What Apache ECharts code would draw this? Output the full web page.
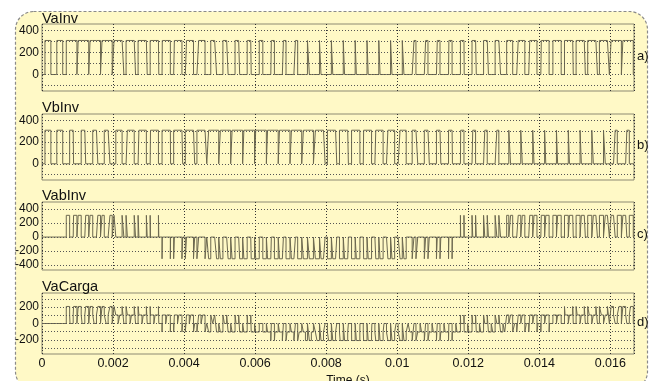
<!DOCTYPE html>
<html><head><meta charset="utf-8">
<script src="https://cdn.jsdelivr.net/npm/echarts@6/dist/echarts.min.js"></script>
<style>html,body{margin:0;padding:0;background:#fff}#c{width:654px;height:381px}</style>
</head><body><div id="c"></div>
<script>
// ================= DATA =================
// time axis (seconds)
const xMaxS = 1/60;
const xTickStep = 0.002;
// panel texts
const panelTitles = ['VaInv','VbInv','VabInv','VaCarga'];
const panelTags = ['a)','b)','c)','d)'];
// y tick labels and dotted grid values per panel
const yTickLabels = [[0,200,400],[0,200,400],[-400,-200,0,200,400],[-200,0,200]];
const yGridValues = [[-100,0,100,200,300,400],[-100,0,100,200,300,400],[-400,-200,0,200,400],[-300,-200,-100,0,100,200,300]];
const yRanges = [[-150,460],[-150,460],[-470,500],[-370,370]];
// inverter: DC bus (V) and PWM carrier period (ms)
const vdc = 310;
const carrierPeriodMs = 1/3;
// duty cycle of each inverter leg in each of the 50 carrier periods (read from the pulse widths)
const vaDuty = [0.50,0.50,0.90,0.89,0.88,0.86,0.83,0.80,0.77,0.73,0.68,0.64,0.59,0.54,0.49,0.44,0.39,0.34,0.30,0.26,0.22,0.19,0.16,0.13,0.12,0.11,0.10,0.10,0.11,0.12,0.14,0.17,0.20,0.23,0.27,0.32,0.36,0.41,0.46,0.51,0.56,0.61,0.66,0.70,0.74,0.78,0.82,0.84,0.87,0.88];
const vbDuty = [0.50,0.50,0.33,0.38,0.43,0.48,0.53,0.58,0.63,0.67,0.72,0.76,0.79,0.83,0.85,0.87,0.89,0.90,0.90,0.90,0.89,0.87,0.85,0.82,0.79,0.75,0.71,0.67,0.62,0.57,0.52,0.47,0.42,0.37,0.33,0.28,0.24,0.21,0.17,0.15,0.13,0.11,0.10,0.10,0.10,0.11,0.13,0.15,0.18,0.21];
const vcDuty = [0.50,0.50,0.27,0.23,0.20,0.17,0.14,0.12,0.11,0.10,0.10,0.11,0.12,0.14,0.16,0.19,0.22,0.26,0.30,0.35,0.40,0.45,0.50,0.55,0.59,0.64,0.69,0.73,0.77,0.81,0.84,0.86,0.88,0.89,0.90,0.90,0.89,0.88,0.86,0.84,0.81,0.78,0.74,0.70,0.65,0.60,0.56,0.51,0.46,0.41];

// ============ build switching waveforms from the duty tables ============
const legs = [vaDuty, vbDuty, vcDuty];
const legPulses = legs.map(duty=>duty.map((d,k)=>{
  const c=(k+0.5)*carrierPeriodMs; return [c-d*carrierPeriodMs/2, c+d*carrierPeriodMs/2];
}));
function legOn(i,t){
  const k = Math.min(legs[i].length-1, Math.max(0, Math.floor(t/carrierPeriodMs)));
  const p = legPulses[i][k];
  return (t>=p[0] && t<p[1]) ? 1 : 0;
}
const allTimes = (()=>{
  const a = [0, 1000*xMaxS];
  legPulses.forEach(ps=>ps.forEach(p=>{ a.push(p[0], p[1]); }));
  a.sort((x,y)=>x-y);
  return a.filter((t,i)=>i===0 || t-a[i-1]>1e-9);
})();
// value on each interval is sampled at the interval's midpoint (robust to rounding)
function wave(fn){
  const out=[];
  for(let i=0;i<allTimes.length-1;i++){ out.push([allTimes[i]/1000, fn((allTimes[i]+allTimes[i+1])/2)]); }
  const last=allTimes[allTimes.length-1];
  out.push([last/1000, out[out.length-1][1]]);
  return out;
}
const seriesData = [
  wave(t=>vdc*legOn(0,t)),                                        // VaInv  (leg a to DC-)
  wave(t=>vdc*legOn(1,t)),                                        // VbInv  (leg b to DC-)
  wave(t=>vdc*(legOn(0,t)-legOn(1,t))),                           // VabInv (line to line)
  wave(t=>vdc*(2*legOn(0,t)-legOn(1,t)-legOn(2,t))/3)             // VaCarga (phase to neutral)
];

// ================= CHART =================
const grids = [{top:24,height:67},{top:114,height:66},{top:202,height:68},{top:293,height:61}];
const titleTops = [11,100,188,279];
const FONT = '"Liberation Sans", Arial, sans-serif';
const chart = echarts.init(document.getElementById('c'), null, {renderer:'canvas'});
const option = {
  animation:false,
  backgroundColor:'#ffffff',
  graphic:[{type:'rect',z:-10,shape:{x:15.5,y:11.5,width:632,height:378,r:18},
    style:{fill:'#FFF9C6',stroke:'#8a8a8a',lineWidth:1.2,lineDash:[3,2]}}],
  title: panelTitles.map((t,i)=>({text:t,left:42,top:titleTops[i],padding:0,
      textStyle:{fontFamily:FONT,fontSize:14.5,fontWeight:'normal',color:'#111'}}))
    .concat(panelTags.map((t,i)=>({text:t,left:637,top:grids[i].top+grids[i].height/2-8,padding:0,
      textStyle:{fontFamily:FONT,fontSize:13,fontWeight:'normal',color:'#111'}}))),
  grid: grids.map(g=>({left:42,right:20,top:g.top,height:g.height,show:true,outerBoundsMode:'none',containLabel:false,
    borderColor:'#8d8a72',borderWidth:1,backgroundColor:'transparent'})),
  xAxis: grids.map((g,i)=>({type:'value',gridIndex:i,min:0,max:xMaxS,interval:xTickStep,
    axisLine:{show:false},axisTick:{show:false},
    axisLabel:{show:i===3,showMaxLabel:false,fontFamily:FONT,fontSize:12.5,color:'#111',margin:3,
      formatter:v=>String(parseFloat(v.toFixed(3)))},
    splitLine:{show:true,lineStyle:{color:'#333',type:[1,2],width:1}},
    name:i===3?'Time (s)':'',nameLocation:'middle',nameGap:21,
    nameTextStyle:{fontFamily:FONT,fontSize:12,color:'#111',padding:[0,0,0,20]}})),
  yAxis: grids.map((g,i)=>({type:'value',gridIndex:i,min:yRanges[i][0],max:yRanges[i][1],interval:10,
    axisLine:{show:false},axisTick:{show:false},splitLine:{show:false},
    axisLabel:{show:true,showMinLabel:false,showMaxLabel:false,fontFamily:FONT,fontSize:12,color:'#111',margin:3,
      formatter:v=>yTickLabels[i].includes(Math.round(v))?String(Math.round(v)):''}})),
  series: seriesData.map((d,i)=>({type:'line',xAxisIndex:i,yAxisIndex:i,data:d,step:'end',showSymbol:false,
    lineStyle:{color:'#6c684f',width:1},silent:true,
    markLine:{silent:true,symbol:'none',label:{show:false},
      lineStyle:{color:'#555',type:[1,2],width:1},
      data:yGridValues[i].map(v=>({yAxis:v}))}}))
};
chart.setOption(option);
</script></body></html>
